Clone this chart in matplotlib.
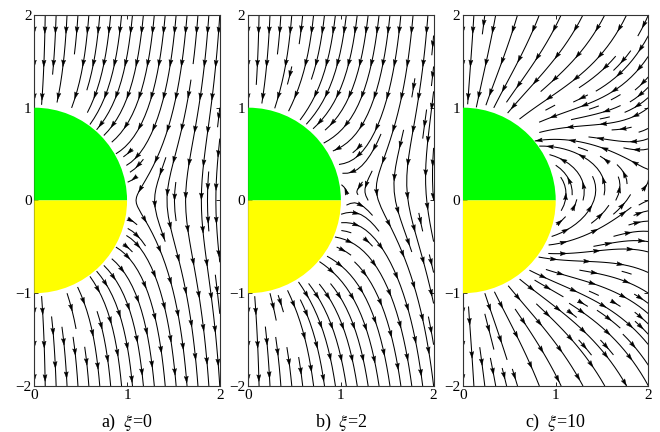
import numpy as np
import matplotlib
matplotlib.use("Agg")
from matplotlib import pyplot as plt
from matplotlib.patches import Wedge
from matplotlib.collections import PolyCollection

plt.rcParams['font.family'] = ['Liberation Serif', 'DejaVu Serif']
plt.rcParams['mathtext.fontset'] = 'stix'

# one panel per value of xi
labels = ["a)", "b)", "c)"]
xis = [0, 2, 10]
dipole = [1.0, 1.5, 9.0]   # strength of the dipole term seen on each panel
source = [0.0, 0.3, 1.5]   # small net outflow that lifts the hairpins
xticks = [0, 1, 2]
yticks = [-2, -1, 0, 1, 2]

lefts = [0.052, 0.376, 0.7015]
bottom, width, height = 0.1065, 0.281, 0.859

nx, ny = 201, 401
x = np.linspace(0, 2, nx)
y = np.linspace(-2, 2, ny)
X, Y = np.meshgrid(x, y)
R = np.hypot(X, Y)
R[R == 0] = 1e-9
ct, st = Y / R, X / R


def field(p, q):
    # uniform downward field plus dipole and source, in spherical parts
    ur = -ct * (1 + 2 * p / R ** 3) + q / R ** 2
    ut = st * (1 - p / R ** 3)
    u = ur * st + ut * ct
    v = ur * ct - ut * st
    inside = R < 1.0
    u[inside] = np.nan
    v[inside] = np.nan
    return u, v


def chain(segs):
    # streamplot may hand back short pieces; glue them back into lines
    lines = []
    cur = None
    for s in segs:
        s = np.asarray(s)
        if cur is not None and np.allclose(s[0], cur[-1]):
            cur.extend(list(s[1:]))
        else:
            if cur is not None:
                lines.append(np.array(cur))
            cur = list(s)
    if cur is not None:
        lines.append(np.array(cur))
    return lines


def heads(line, gap=0.36, first=0.2, hl=0.072, hw=0.022):
    d = np.hypot(*np.diff(line, axis=0).T)
    s = np.concatenate([[0], np.cumsum(d)])
    out = []
    if s[-1] < 0.12:
        return out
    pos = np.arange(min(first, s[-1] * 0.6), s[-1], gap)
    for p in pos:
        tip = np.array([np.interp(p, s, line[:, 0]), np.interp(p, s, line[:, 1])])
        back = np.array([np.interp(p - hl, s, line[:, 0]), np.interp(p - hl, s, line[:, 1])])
        t = tip - back
        n = np.hypot(*t)
        if n == 0:
            continue
        t = t / n
        b = tip - t * hl
        nrm = np.array([-t[1], t[0]])
        out.append([tip, b + nrm * hw, b + t * hl * 0.15, b - nrm * hw])
    return out


fig = plt.figure(figsize=(6.6, 4.32), dpi=100)

for i in range(3):
    ax = fig.add_axes([lefts[i], bottom, width, height])
    U, V = field(dipole[i], source[i])
    sp = ax.streamplot(x, y, U, V, density=(0.62, 1.25), color='black',
                       linewidth=0.75, arrowsize=0.1, minlength=0.04)
    for p in list(ax.patches):
        p.remove()
    tris = []
    for ln in chain(sp.lines.get_segments()):
        tris.extend(heads(ln))
    ax.add_collection(PolyCollection(tris, facecolor='black', edgecolor='black',
                                     linewidth=0.3, zorder=2))
    ax.add_patch(Wedge((0, 0), 1, 0, 90, facecolor=(0, 1, 0), edgecolor='none', zorder=3))
    ax.add_patch(Wedge((0, 0), 1, -90, 0, facecolor=(1, 1, 0), edgecolor='none', zorder=3))
    ax.set_xlim(0, 2)
    ax.set_ylim(-2, 2)
    ax.set_xticks(xticks)
    ax.set_yticks(yticks)
    ax.set_xticklabels([str(t) for t in xticks])
    ax.set_yticklabels([str(t).replace('-', '\u2212') for t in yticks])
    ax.tick_params(direction='in', length=3, width=0.6, labelsize=11, pad=2,
                   top=True, right=True)
    for s in ax.spines.values():
        s.set_linewidth(0.8)
        s.set_color('#333333')
    cap = labels[i] + r"  $\xi$=" + str(xis[i])
    ax.text(0.5, -0.097, cap, transform=ax.transAxes,
            ha='center', va='center', fontsize=13)

fig.savefig("out.png", dpi=100)
